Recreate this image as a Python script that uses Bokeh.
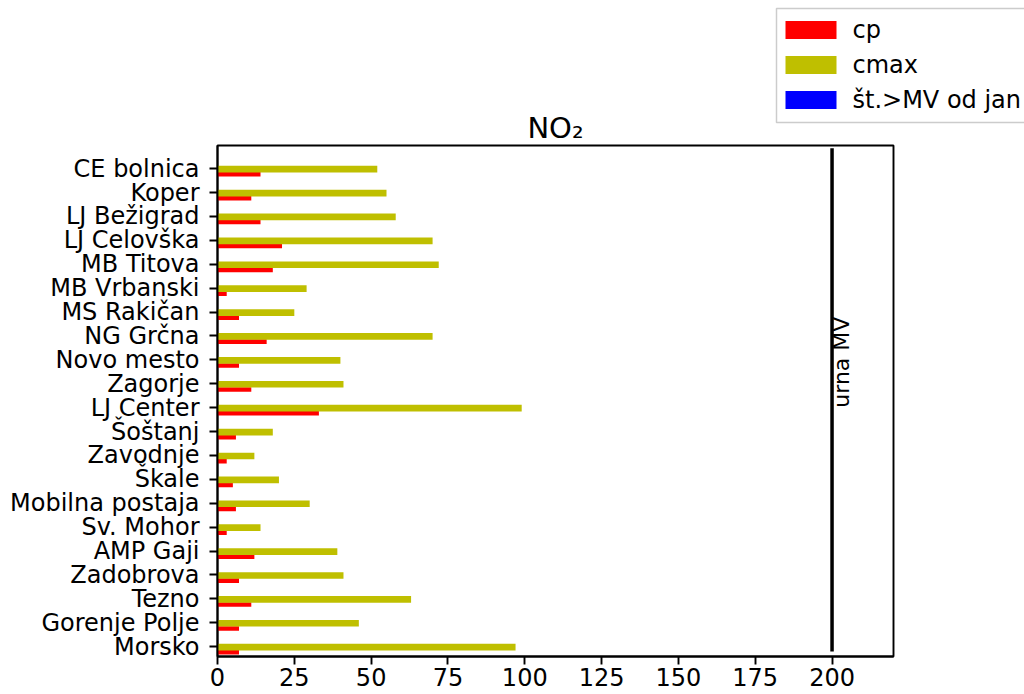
import numpy as np
from bokeh.plotting import figure
from bokeh.layouts import column
from bokeh.models import (ColumnDataSource, Range1d, FixedTicker, SingleIntervalTicker)
from bokeh.core.properties import value
from bokeh.embed import file_html
from bokeh.resources import INLINE

# ---------------- data ----------------
stations = ["CE bolnica", "Koper", "LJ Bežigrad", "LJ Celovška", "MB Titova",
            "MB Vrbanski", "MS Rakičan", "NG Grčna", "Novo mesto", "Zagorje",
            "LJ Center", "Šoštanj", "Zavodnje", "Škale", "Mobilna postaja",
            "Sv. Mohor", "AMP Gaji", "Zadobrova", "Tezno", "Gorenje Polje", "Morsko"]
cp = [14, 11, 14, 21, 18, 3, 7, 16, 7, 11, 33, 6, 3, 5, 6, 3, 12, 7, 11, 7, 7]
cmax = [52, 55, 58, 70, 72, 29, 25, 70, 40, 41, 99, 18, 12, 20, 30, 14, 39, 41, 63, 46, 97]
exceed = [0] * len(stations)
limit_value = 200
limit_label = "urna MV"
series_names = ["cp", "cmax", "št.>MV od jan"]
series_colors = ["#ff0000", "#bfbf00", "#0000ff"]
title_text = "NO₂"

FONT = "DejaVu Sans"
W = 1024
TOP_H = 143
MAIN_H = 694 - TOP_H
FRAME_L, FRAME_R = 217, 893

# ---------------- top strip: title + legend (page-pixel coordinates) ----------------
top = figure(frame_width=W - FRAME_L, frame_height=TOP_H, output_backend="svg",
             toolbar_location=None,
             x_range=Range1d(FRAME_L, W), y_range=Range1d(0, TOP_H),
             x_axis_type=None, y_axis_type=None,
             min_border_left=FRAME_L, min_border_right=0, min_border_top=0, min_border_bottom=0)
top.outline_line_color = None
top.xgrid.visible = False
top.ygrid.visible = False

# legend box
top.quad(left=[776], right=[1034], top=[TOP_H - 8], bottom=[TOP_H - 122],
         fill_color="white", fill_alpha=0.8, line_color="#cccccc", line_width=1.5)
row_y = [TOP_H - 29.5, TOP_H - 64.5, TOP_H - 99.5]
top.quad(left=[785] * 3, right=[836] * 3,
         top=[y + 9 for y in row_y], bottom=[y - 9 for y in row_y],
         fill_color=series_colors, line_color=None)
top.text(x=[852] * 3, y=row_y, text=series_names, text_align="left",
         text_baseline="middle", text_font=value(FONT), text_font_size="24px",
         text_color="black")

# title
top.text(x=[(FRAME_L + FRAME_R) / 2], y=[TOP_H - 127], text=[title_text],
         text_align="center", text_baseline="alphabetic", text_font=value(FONT),
         text_font_size="29px", text_color="black")

# ---------------- main chart ----------------
n = len(stations)
pos = [n - 1 - i for i in range(n)]  # first station at top
src = ColumnDataSource(dict(
    y_cp=[p_ - 0.235 for p_ in pos],
    y_cmax=[p_ - 0.02 for p_ in pos],
    y_ex=[p_ + 0.25 for p_ in pos],
    cp=cp, cmax=cmax, ex=exceed,
))

p = figure(width=W, height=MAIN_H, output_backend="svg", toolbar_location=None,
           x_range=Range1d(0, 220), y_range=Range1d(-0.41, n - 1 + 0.97),
           min_border_left=FRAME_L, min_border_right=W - FRAME_R,
           min_border_top=2, min_border_bottom=38)

p.hbar(y="y_cp", left=0, right="cp", height=0.19, color=series_colors[0],
       line_color=None, source=src)
p.hbar(y="y_cmax", left=0, right="cmax", height=0.28, color=series_colors[1],
       line_color=None, source=src)
p.hbar(y="y_ex", left=0, right="ex", height=0.2, color=series_colors[2],
       line_color=None, source=src)

# limit line
p.segment(x0=[limit_value], x1=[limit_value], y0=[-0.2], y1=[n - 1 + 0.85],
          line_color="black", line_width=3.5)
p.text(x=[limit_value], y=[10], text=[limit_label], angle=np.pi / 2,
       text_align="left", text_baseline="top", text_font=value(FONT),
       text_font_size="22px", text_color="black", x_offset=-3)

p.xgrid.visible = False
p.ygrid.visible = False
p.outline_line_color = "black"
p.outline_line_width = 1.9

p.xaxis.ticker = SingleIntervalTicker(interval=25)
p.yaxis.ticker = FixedTicker(ticks=pos)
p.yaxis.major_label_overrides = {p_: s for p_, s in zip(pos, stations)}
for ax in (p.xaxis[0], p.yaxis[0]):
    ax.major_label_text_font = FONT
    ax.major_label_text_font_size = "24px"
    ax.major_label_text_color = "black"
    ax.axis_line_width = 1.9
    ax.major_tick_line_width = 1.9
    ax.major_tick_out = 8
    ax.major_tick_in = 0
    ax.minor_tick_line_color = None
p.xaxis.major_label_standoff = 3
p.yaxis.major_label_standoff = 10

layout = column(top, p, spacing=0)
open("out.html", "w").write(file_html(layout, INLINE))
